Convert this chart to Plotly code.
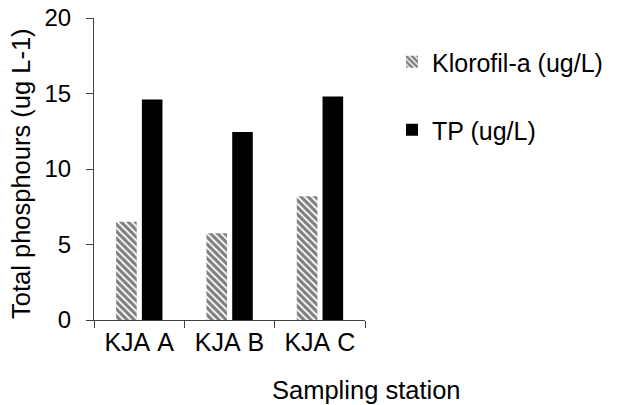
import plotly.graph_objects as go

stations = ["KJA A", "KJA B", "KJA C"]
station_labels = ["KJA\u00a0A", "KJA\u00a0B", "KJA\u00a0C"]
klorofil = [6.5, 5.75, 8.2]
tp = [14.6, 12.45, 14.8]
y_ticks = [0, 5, 10, 15, 20]

FONT = "Arial, Liberation Sans, sans-serif"
FS = 24
AX = "#404040"

fig = go.Figure()
fig.add_trace(go.Bar(
    x=stations, y=klorofil, name="Klorofil-a (ug/L)",
    width=0.228, offset=-0.255,
    marker=dict(color="white", line=dict(width=0),
                pattern=dict(shape="\\", fgcolor="black", bgcolor="white",
                             size=5, solidity=0.65, fillmode="overlay")),
    legend="legend",
))
fig.add_trace(go.Bar(
    x=stations, y=tp, name="TP (ug/L)",
    width=0.228, offset=0.03,
    marker=dict(color="black", line=dict(width=0)),
    legend="legend2",
))

fig.update_layout(
    template="none",
    width=617, height=405,
    margin=dict(l=94, r=252, t=18, b=85, autoexpand=False),
    paper_bgcolor="white", plot_bgcolor="white",
    barmode="overlay",
    font=dict(family=FONT, size=FS, color="black"),
    showlegend=True,
    legend=dict(x=(392 - 94) / 271, y=(320 - 62) / 302, xanchor="left", yanchor="middle",
                font=dict(size=25), bgcolor="rgba(0,0,0,0)"),
    legend2=dict(x=(392 - 94) / 271, y=(320 - 130) / 302, xanchor="left", yanchor="middle",
                 font=dict(size=25), bgcolor="rgba(0,0,0,0)"),
    xaxis=dict(
        type="category", tickvals=stations, ticktext=station_labels,
        showline=True, linecolor=AX, linewidth=1, automargin=False,
        ticks="outside", tickson="boundaries", ticklen=7, tickcolor=AX,
        showgrid=False, zeroline=False, fixedrange=True,
        tickfont=dict(size=25, color="black"),
    ),
    yaxis=dict(
        range=[0, 20], tickvals=y_ticks, automargin=False,
        showline=True, linecolor=AX, linewidth=1,
        ticks="outside", ticklen=7, tickcolor=AX,
        showgrid=False, zeroline=False, fixedrange=True,
        tickfont=dict(size=FS, color="black"),
        ticklabelstandoff=10,
    ),
    annotations=[
        dict(text="Total phosphours (ug L-1)", textangle=-90,
             xref="paper", yref="paper", x=(21 - 94) / 271, y=(320 - 174) / 302,
             xanchor="center", yanchor="middle", showarrow=False,
             font=dict(size=25.5, color="black")),
        dict(text="Sampling station",
             xref="paper", yref="paper", x=(366 - 94) / 271, y=(320 - 390) / 302,
             xanchor="center", yanchor="middle", showarrow=False,
             font=dict(size=25.5, color="black")),
    ],
)

fig.write_html(
    "out.html",
    config={"displayModeBar": False},
    post_script="document.body.style.margin='0';document.body.style.overflow='hidden';",
)
